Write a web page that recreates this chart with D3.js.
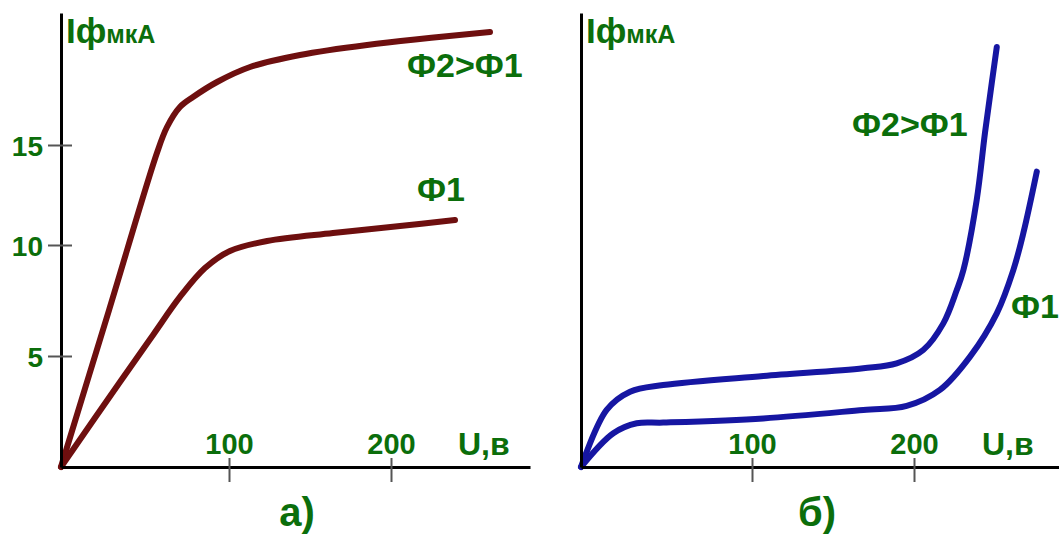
<!DOCTYPE html>
<html>
<head>
<meta charset="utf-8">
<script src="https://cdn.jsdelivr.net/npm/d3@7"></script>
<style>
  body { margin: 0; background: #fff; }
  svg { display: block; }
  text { font-family: "Liberation Sans", Arial, sans-serif; font-weight: bold; fill: #0b6e0b; }
  .axis .domain { stroke: #000; stroke-width: 3; }
  .axis .tick line { stroke: #555; stroke-width: 2; }
  .curve { fill: none; stroke-width: 6; stroke-linecap: round; stroke-linejoin: round; }
</style>
</head>
<body>
<script>
// SVG size
var svgWidth = 1059;
var svgHeight = 538;

// tick labels
var yTicks = [5, 10, 15];
var xTicks = [100, 200];

// panel a) - photocurrent vs voltage, vacuum photocell
var aU_F2 = [0, 28.6, 57.1, 63.1, 70.8, 78.6, 92.9, 113, 143.8, 185.2, 261.1];
var aI_F2 = [0, 7.07, 14.6, 15.9, 16.9, 17.4, 18.15, 18.9, 19.5, 20.0, 20.65];
var aU_F1 = [0, 35.1, 54.8, 70.8, 85.7, 100.6, 123.5, 164.2, 205.6, 239.5];
var aI_F1 = [0, 3.83, 5.95, 7.66, 8.96, 9.73, 10.2, 10.6, 10.95, 11.25];

// panel б) - gas-filled photocell
var bU_F2 = [0, 15.0, 28.7, 48.1, 107, 168.7, 189.3, 205.7, 218.1, 226.4, 230.5, 238.7, 243.8, 248, 251.1];
var bI_F2 = [0, 2.57, 3.39, 3.69, 4.1, 4.45, 4.67, 5.27, 6.47, 7.97, 8.87, 12.25, 15.6, 18.1, 19.9];
var bU_F1 = [0, 18.9, 32.6, 48.1, 107, 168.7, 195.5, 216, 234.6, 251.1, 261.3, 267.5, 275.8];
var bI_F1 = [0, 1.52, 1.97, 2.0, 2.19, 2.57, 2.75, 3.47, 4.97, 6.92, 8.87, 10.6, 13.67];

var svg = d3.select("body")
  .append("svg")
  .attr("width", svgWidth)
  .attr("height", svgHeight);

// hand drawn axes are not quite even, so use piecewise scales
var yScale = d3.scaleLinear()
  .domain([0, 5, 10, 15, 21.6])
  .range([467, 356, 245, 145, 13]);

function zip(us, is) {
  return us.map(function(u, k) { return {u: u, i: is[k]}; });
}

function drawPanel(opts) {
  var xScale = d3.scaleLinear()
    .domain([0, 100, 200, opts.xMax])
    .range(opts.xRange);

  var g = svg.append("g");

  // curves
  var drawLine = d3.line()
    .x(d => xScale(d.u))
    .y(d => yScale(d.i))
    .curve(d3.curveCatmullRom.alpha(0.5));

  opts.series.forEach(function(s) {
    g.append("path")
      .attr("class", "curve")
      .attr("stroke", opts.color)
      .attr("d", drawLine(zip(s[0], s[1])));
  });

  // y axis
  var leftAxis = d3.axisLeft(yScale)
    .tickValues(opts.showYTicks ? yTicks : [])
    .tickSizeOuter(0)
    .tickSizeInner(13);
  var yg = g.append("g")
    .attr("class", "axis")
    .attr("transform", `translate(${opts.xRange[0]}, 0)`)
    .call(leftAxis);
  yg.selectAll(".tick line").attr("x2", -13).attr("x1", 11);
  yg.selectAll(".tick text")
    .attr("x", -18)
    .attr("dy", "0.36em")
    .style("font-size", "28px")
    .attr("fill", "#0b6e0b");

  // x axis
  var bottomAxis = d3.axisBottom(xScale)
    .tickValues(xTicks)
    .tickSizeOuter(0);
  var xg = g.append("g")
    .attr("class", "axis")
    .attr("transform", `translate(0, ${yScale(0)})`)
    .call(bottomAxis);
  xg.selectAll(".tick line").attr("y1", -9).attr("y2", 15);
  xg.selectAll(".tick text")
    .attr("y", -13)
    .attr("dy", 0)
    .style("font-size", "29px")
    .attr("fill", "#0b6e0b");

  // axis titles
  var yt = g.append("text")
    .attr("x", opts.xRange[0] + 5)
    .attr("y", 43);
  yt.append("tspan").style("font-size", "35px").text("Iф");
  yt.append("tspan").style("font-size", "25px").text("мкА");

  g.append("text")
    .attr("x", opts.uLabelX)
    .attr("y", 455)
    .style("font-size", "32px")
    .text("U,в");

  g.append("text")
    .attr("x", opts.captionX)
    .attr("y", 526)
    .attr("text-anchor", "middle")
    .style("font-size", "40px")
    .text(opts.caption);

  opts.labels.forEach(function(l) {
    g.append("text")
      .attr("x", l.x)
      .attr("y", l.y)
      .style("font-size", "34px")
      .text(l.text);
  });
}

drawPanel({
  xRange: [61, 229, 391, 530],
  xMax: 285.8,
  color: "#6e0f0f",
  showYTicks: true,
  series: [[aU_F2, aI_F2], [aU_F1, aI_F1]],
  uLabelX: 458,
  caption: "а)",
  captionX: 297,
  labels: [{text: "Ф2>Ф1", x: 407, y: 77}, {text: "Ф1", x: 417, y: 201}]
});

drawPanel({
  xRange: [581, 752, 914, 1059],
  xMax: 289.5,
  color: "#1616a2",
  showYTicks: false,
  series: [[bU_F2, bI_F2], [bU_F1, bI_F1]],
  uLabelX: 982,
  caption: "б)",
  captionX: 817,
  labels: [{text: "Ф2>Ф1", x: 852, y: 136}, {text: "Ф1", x: 1011, y: 318}]
});
</script>
</body>
</html>
